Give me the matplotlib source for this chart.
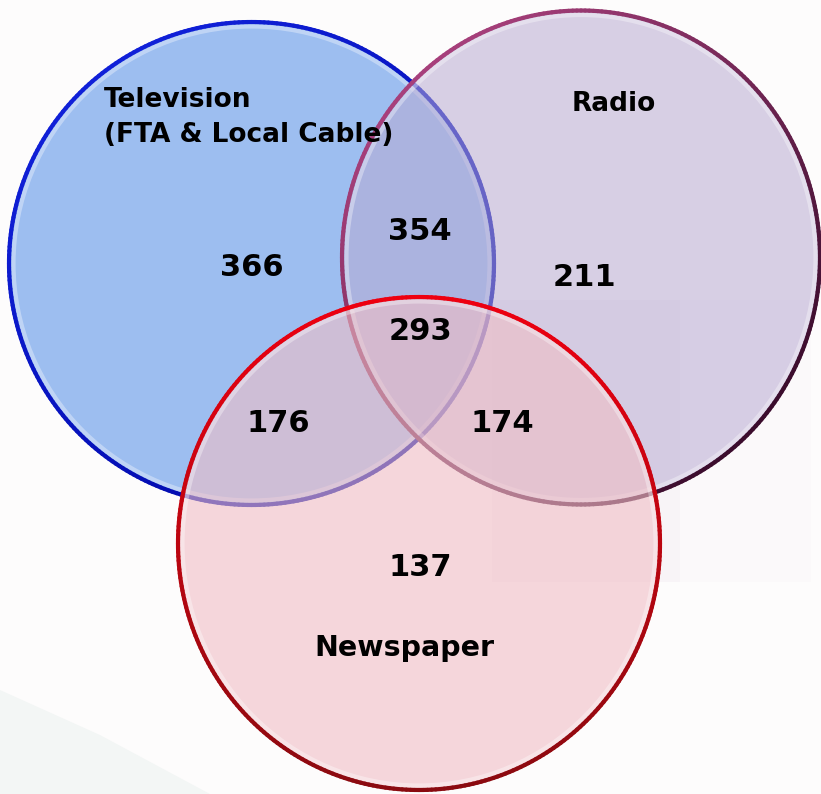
import numpy as np
import matplotlib
matplotlib.use("Agg")
import matplotlib.pyplot as plt
from matplotlib.patches import Ellipse, Polygon, Rectangle
from matplotlib.collections import LineCollection
from matplotlib.colors import to_rgb

# media sets and the respondents counted in each Venn region
set_names = ["Television\n(FTA & Local Cable)", "Radio", "Newspaper"]
region_keys = ["TV", "R", "N", "TV&R", "TV&N", "R&N", "TV&R&N"]
region_counts = [366, 211, 137, 354, 176, 174, 293]

# layout (pixel space, y grows downward)
circle_centers = [(251.5, 263.5), (581.0, 257.5), (419.0, 543.5)]
circle_sizes = [(485, 483), (478, 494), (482, 493)]
face_colors = [(0.616, 0.745, 0.941, 1.0),
               (184 / 255, 170 / 255, 210 / 255, 0.55),
               (240 / 255, 190 / 255, 197 / 255, 0.60)]
# edge colour on the lit side, edge colour on the shaded side, light direction
edge_shades = [("#1020d8", "#0008a8", (-0.6, -0.8)),
               ("#a8407c", "#3a0c2c", (-0.7, -0.7)),
               ("#ee0010", "#8a0a10", (0.0, -1.0))]

region_pos = {"TV": (252, 267), "R": (584, 278), "N": (420, 567),
              "TV&R": (420, 231), "TV&N": (278, 423), "R&N": (502, 423),
              "TV&R&N": (420, 332)}


def gradient_edge(ax, center, size, lit, dark, light, z):
    cx, cy = center
    rx, ry = size[0] / 2, size[1] / 2
    t = np.linspace(0, 2 * np.pi, 361)
    x = cx + rx * np.cos(t)
    y = cy + ry * np.sin(t)
    pts = np.column_stack([x, y]).reshape(-1, 1, 2)
    segs = np.concatenate([pts[:-1], pts[1:]], axis=1)
    tm = (t[:-1] + t[1:]) / 2
    shade = (np.cos(tm) * light[0] + np.sin(tm) * light[1] + 1) / 2
    c1, c2 = np.array(to_rgb(lit)), np.array(to_rgb(dark))
    cols = [tuple(c2 + (c1 - c2) * s) for s in shade]
    ax.add_collection(LineCollection(segs, colors=cols, linewidths=3.0,
                                     capstyle="round", zorder=z))


fig = plt.figure(figsize=(8.21, 7.94), dpi=100)
fig.patch.set_facecolor("#fdfcfc")
ax = fig.add_axes([0, 0, 1, 1])
ax.set_xlim(0, 821)
ax.set_ylim(794, 0)
ax.set_aspect("equal")
ax.axis("off")

# faint backdrop shapes
ax.add_patch(Rectangle((492, 300), 188, 282, facecolor="#f8f4f7",
                       edgecolor="none", zorder=0))
ax.add_patch(Rectangle((680, 300), 131, 282, facecolor="#fbf9fa",
                       edgecolor="none", zorder=0))
ax.add_patch(Polygon([(0, 690), (100, 735), (210, 794), (0, 794)],
                     closed=True, facecolor="#f3f6f5", edgecolor="none",
                     zorder=0))

for i, (c, s, fc) in enumerate(zip(circle_centers, circle_sizes, face_colors)):
    z = 2 + 3 * i
    ax.add_patch(Ellipse(c, s[0], s[1], facecolor=fc, edgecolor="none",
                         zorder=z))
    # soft light rim just inside the outline
    ax.add_patch(Ellipse(c, s[0] - 9, s[1] - 9, facecolor="none",
                         edgecolor=(1, 1, 1, 0.35), linewidth=3, zorder=z))
    lit, dark, light = edge_shades[i]
    gradient_edge(ax, c, s, lit, dark, light, z + 1)

label_font = {"family": "DejaVu Sans", "weight": "bold", "color": "black"}
ax.text(104, 100, "Television", fontsize=19, ha="left", va="center",
        zorder=20, **label_font)
ax.text(104, 135, "(FTA & Local Cable)", fontsize=19, ha="left",
        va="center", zorder=20, **label_font)
ax.text(614, 104, set_names[1], fontsize=19, ha="center", va="center",
        zorder=20, **label_font)
ax.text(404, 648, set_names[2], fontsize=20.5, ha="center", va="center",
        zorder=20, **label_font)

for key, n in zip(region_keys, region_counts):
    x, y = region_pos[key]
    ax.text(x, y, str(n), fontsize=22, ha="center", va="center",
            zorder=20, **label_font)

fig.savefig("out.png", dpi=100, facecolor=fig.get_facecolor())
